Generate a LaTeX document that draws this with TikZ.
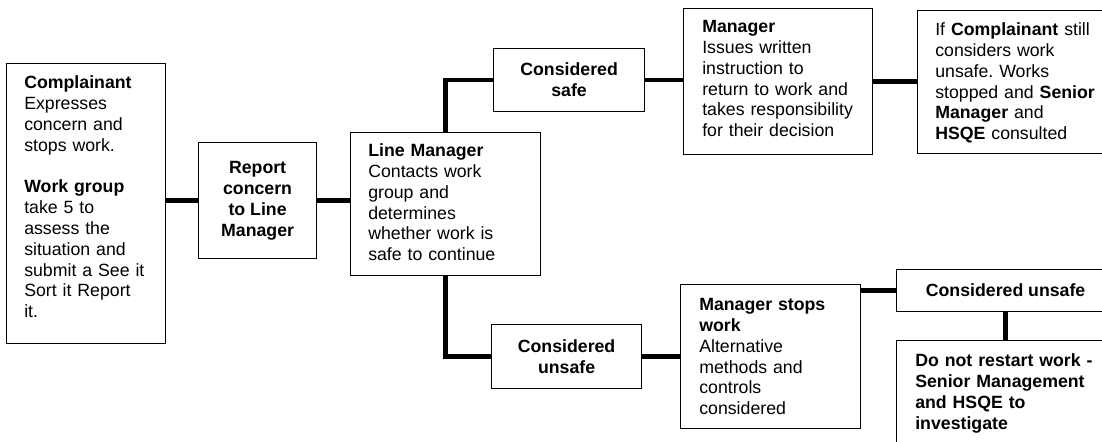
\documentclass[tikz,border=0pt]{standalone}
\usepackage{fontspec}
\setmainfont{Liberation Sans}
\usepackage{tikz}
\frenchspacing

\begin{document}
\begin{tikzpicture}[x=0.025cm,y=-0.025cm]
\tikzset{box/.style = {shape=rectangle,draw,line width=0.8pt,anchor=north west,inner sep=0pt}}
\tikzset{note/.style = {anchor=base west,align=left,inner sep=0pt,text width=4.7cm,font=\fontsize{12.6pt}{14.8pt}\selectfont}}
\tikzset{head/.style = {align=center,font=\fontsize{12.6pt}{14.8pt}\selectfont\bfseries}}
\tikzset{edge/.style = {line width=3.4pt}}
\useasboundingbox (0,0) rectangle (1102,441);
% boxes
\node[box,minimum width=3.975cm,minimum height=7cm] (cpl) at (6,63) {};
\node[box,head,minimum width=2.95cm,minimum height=2.9cm] (rep) at (198,142) {Report\\concern\\to Line\\Manager};
\node[box,minimum width=4.75cm,minimum height=3.575cm] (lm) at (350,132) {};
\node[box,head,minimum width=3.775cm,minimum height=1.575cm] (safe) at (493,48) {Considered\\safe};
\node[box,head,minimum width=3.75cm,minimum height=1.6cm] (unsafe) at (491,324) {Considered\\unsafe};
\node[box,minimum width=4.725cm,minimum height=3.65cm] (mgr) at (683,8) {};
\node[box,minimum width=4.825cm,minimum height=3.575cm] (cmp) at (917,10) {};
\node[box,minimum width=4.5cm,minimum height=3.6cm] (stop) at (680,284) {};
\node[box,head,minimum width=5.45cm,minimum height=1.05cm] (unsafeb) at (896,269) {Considered unsafe};
\node[box,minimum width=5.45cm,minimum height=3.25cm] (dnr) at (896,340) {};

% texts
\node[note] (cpltxt) at ([shift={(18,25.7)}]cpl.north west) {\textbf{Complainant}\\Expresses\\concern and\\stops work.\\[14.8pt]\textbf{Work group}\\take 5 to\\assess the\\situation and\\submit a See it\\Sort it Report\\it.};
\node[note] (lmtxt) at ([shift={(18,24.7)}]lm.north west) {\textbf{Line Manager}\\Contacts work\\group and\\determines\\whether work is\\safe to continue};
\node[note] (mgrtxt) at ([shift={(19,24.7)}]mgr.north west) {\textbf{Manager}\\Issues written\\instruction to\\return to work and\\takes responsibility\\for their decision};
\node[note] (cmptxt) at ([shift={(18,25.7)}]cmp.north west) {If \textbf{Complainant} still\\considers work\\unsafe. Works\\stopped and \textbf{Senior}\\\textbf{Manager} and\\\textbf{HSQE} consulted};
\node[note] (stoptxt) at ([shift={(19,26.7)}]stop.north west) {\textbf{Manager stops}\\\textbf{work}\\Alternative\\methods and\\controls\\considered};
\node[note] (dnrtxt) at ([shift={(19,26.7)}]dnr.north west) {\textbf{Do not restart work -}\\\textbf{Senior Management}\\\textbf{and HSQE to}\\\textbf{investigate}};

%edges
\draw[edge] (rep.west -| cpl.east) -- (rep.west);
\draw[edge] (rep.east) -- (rep.east -| lm.west);
\draw[edge] (lm.north) |- (safe.west);
\draw[edge] (lm.south) |- (unsafe.west);
\draw[edge] (safe.east) -- (safe.east -| mgr.west);
\draw[edge] (mgr.east) -- (mgr.east -| cmp.west);
\draw[edge] (unsafe.east) -- (unsafe.east -| stop.west);
\draw[edge] (unsafeb.west -| stop.east) -- (unsafeb.west);
\draw[edge] (unsafeb.south) -- (unsafeb.south |- dnr.north);
\end{tikzpicture}
\end{document}
